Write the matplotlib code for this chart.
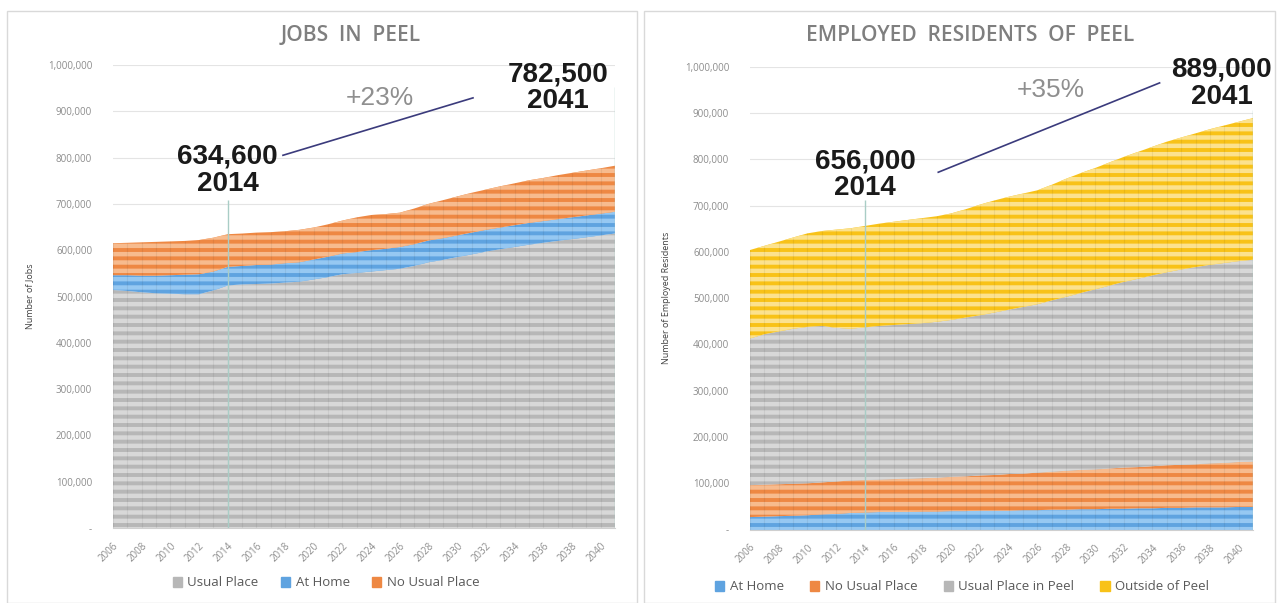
import matplotlib
matplotlib.use("Agg")
import matplotlib.pyplot as plt
from matplotlib.patches import Patch, Rectangle
from matplotlib.ticker import FuncFormatter
import numpy as np

years = np.arange(2006, 2042)

# Jobs in Peel by place of work, thousands
jobs_usual = [514, 512, 509, 507, 506, 505, 505, 513, 524, 526, 527, 528,
              530, 532, 537, 542, 548, 551, 554, 557, 560, 566, 574, 579,
              585, 591, 597, 602, 607, 612, 616, 620, 624, 628, 632, 636]
jobs_home = [32, 34, 36, 38, 40, 42, 43, 41, 40, 40, 41, 41,
             42, 42, 43, 44, 45, 45, 46, 46, 47, 47, 47, 47,
             47, 47, 47, 47, 47, 47, 47, 47, 47, 47, 47, 47]
jobs_no_usual = [69, 70, 72, 73, 73, 73, 74, 73, 70.6, 70, 70, 70,
                 69, 70, 69, 70, 71, 75, 76, 75, 74, 77, 79, 82,
                 84, 86, 87, 89, 90.5, 92, 93, 95, 96, 97, 98, 99.5]

# Employed residents of Peel by place of work, thousands
res_home = [27, 28, 29, 30, 31, 33, 34, 36, 37, 38, 38, 38,
            39, 39, 40, 40, 41, 41, 41, 42, 42, 43, 43, 44,
            44, 45, 45, 46, 46, 47, 47, 48, 48, 48, 49, 49]
res_no_usual = [69, 69, 69, 69, 69, 69, 70, 70, 70, 70, 71, 72,
                72, 73, 74, 75, 76, 77, 79, 79, 81, 82, 84, 85,
                86, 87, 89, 89, 91, 92, 93, 93, 95, 96, 97, 98]
res_usual_peel = [317, 325, 330, 335, 338, 338, 332, 328, 330, 332, 333, 334,
                  335, 337, 339, 343, 346, 351, 355, 360, 364, 370, 376, 382,
                  389, 395, 401, 407, 412, 417, 422, 426, 429, 432, 434, 436]
res_outside = [191, 191, 194, 197, 202, 205, 212, 217, 219, 221, 223, 225,
               227, 228, 230, 234, 239, 242, 244, 245, 246, 250, 255, 259,
               262, 266, 270, 274, 278, 282, 285, 289, 293, 297, 301, 306]

jobs_labels = ["Usual Place", "At Home", "No Usual Place"]
res_labels = ["At Home", "No Usual Place", "Usual Place in Peel", "Outside of Peel"]
base_year, end_year = 2014, 2041

GRAY, GRAY_LT = "#b7b7b7", "#d8d8d8"
BLUE, BLUE_LT = "#5fa3e0", "#96c8f2"
ORANGE, ORANGE_LT = "#ee8843", "#f7bb8e"
YELLOW, YELLOW_LT = "#f8c218", "#fce28e"
MARK_LINE = "#a9cdc6"
ARROW = "#3b3b7c"

W, H = 1282, 603
plt.rcParams["font.family"] = ["Open Sans", "DejaVu Sans"]
plt.rcParams["hatch.linewidth"] = 3.2


def stacked(ax, layers, colors, stripes):
    base = np.zeros(len(years))
    for vals, c, sc in zip(layers, colors, stripes):
        top = base + np.asarray(vals, dtype=float) * 1000
        ax.fill_between(years, base, top, facecolor=c, edgecolor=sc,
                        hatch="--", linewidth=0, zorder=2)
        base = top
    ax.vlines(years, 0, base, color="black", alpha=0.06, linewidth=0.8, zorder=3)
    return base


def style_axis(ax, ylabel):
    ax.set_xlim(years[0], years[-1])
    ax.set_ylim(0, 1_000_000)
    ax.set_yticks(np.arange(0, 1_000_001, 100_000))
    ax.yaxis.set_major_formatter(FuncFormatter(lambda v, p: "-" if v == 0 else f"{v:,.0f}"))
    ax.set_xticks(years[::2])
    ax.set_xticklabels([str(y) for y in years[::2]], rotation=45, ha="right",
                       rotation_mode="anchor")
    ax.tick_params(axis="y", length=0, pad=15, labelsize=7, labelcolor="#8c8c8c")
    ax.tick_params(axis="x", length=0, pad=9, labelsize=7, labelcolor="#8c8c8c")
    ax.grid(axis="y", color="#e4e4e4", linewidth=0.8, zorder=0)
    ax.set_axisbelow(True)
    for side in ["left", "right", "top"]:
        ax.spines[side].set_visible(False)
    ax.spines["bottom"].set_color("#cfcfcf")
    ax.set_ylabel(ylabel, fontsize=6.5, color="#404040", labelpad=10)


def callouts(ax, totals, start_lbl, end_lbl, pct_xy, arrow, start_top, end_top):
    i0 = list(years).index(base_year)
    v0, v1 = totals[i0], totals[-1]
    ax.vlines(base_year, 0, start_top, color=MARK_LINE, linewidth=1, zorder=4)
    ax.vlines(end_year, 0, end_top, color=MARK_LINE, linewidth=1, zorder=4)
    big = dict(fontsize=20, fontweight="bold", color="#1a1a1a", ha="center",
               va="center", linespacing=1.05, family="Liberation Sans", zorder=5)
    ax.text(*start_lbl, f"{v0:,.0f}\n{base_year}", **big)
    ax.text(*end_lbl, f"{v1:,.0f}\n{end_year}", **big)
    pct = int((v1 / v0 - 1) * 100)
    ax.text(*pct_xy, f"+{pct}%", fontsize=19, color="#8f8f8f", ha="center",
            va="center", family="Liberation Sans", zorder=5)
    (x0, y0), (x1, y1) = arrow
    ax.plot([x0, x1], [y0, y1], color=ARROW, linewidth=1.2, zorder=5)


fig = plt.figure(figsize=(W / 100, H / 100), dpi=100)

# panel frames
for x0, x1 in [(7, 637), (644, 1275)]:
    fig.add_artist(Rectangle((x0 / W, 0), (x1 - x0) / W, 1 - 11 / H,
                             transform=fig.transFigure, fill=False,
                             edgecolor="#d9d9d9", linewidth=1))

# left: jobs in Peel
ax1 = fig.add_axes([113 / W, 1 - 528 / H, (615 - 113) / W, (528 - 65) / H])
jobs_total = stacked(ax1, [jobs_usual, jobs_home, jobs_no_usual],
                     [GRAY, BLUE, ORANGE], [GRAY_LT, BLUE_LT, ORANGE_LT])
style_axis(ax1, "Number of Jobs")
callouts(ax1, jobs_total, (2014, 773_000), (2037.0, 951_000), (2024.6, 929_000),
         [(2017.85, 805_000), (2031.1, 929_000)], 708_000, 952_000)
fig.text(351 / W, 1 - 35.5 / H, "JOBS  IN  PEEL", fontsize=15, fontweight="semibold",
         color="#7f7f7f", ha="center", va="center")
fig.legend(handles=[Patch(color=c) for c in [GRAY, BLUE, ORANGE]], labels=jobs_labels,
           loc="center", bbox_to_anchor=(326 / W, 1 - 583 / H), ncol=3, frameon=False,
           fontsize=9.5, labelcolor="#595959", handlelength=0.7, handleheight=0.7,
           handletextpad=0.4, columnspacing=1.7)

# right: employed residents of Peel
ax2 = fig.add_axes([750 / W, 1 - 529.6 / H, (1253 - 750) / W, (529.6 - 66.7) / H])
res_total = stacked(ax2, [res_home, res_no_usual, res_usual_peel, res_outside],
                    [BLUE, ORANGE, GRAY, YELLOW],
                    [BLUE_LT, ORANGE_LT, GRAY_LT, YELLOW_LT])
style_axis(ax2, "Number of Employed Residents")
callouts(ax2, res_total, (2014, 767_000), (2038.8, 964_000), (2026.9, 950_000),
         [(2019.1, 772_000), (2034.5, 965_000)], 712_000, 906_000)
fig.text(970 / W, 1 - 35.5 / H, "EMPLOYED  RESIDENTS  OF  PEEL", fontsize=15,
         fontweight="semibold", color="#7f7f7f", ha="center", va="center")
fig.legend(handles=[Patch(color=c) for c in [BLUE, ORANGE, GRAY, YELLOW]], labels=res_labels,
           loc="center", bbox_to_anchor=(962 / W, 1 - 587 / H), ncol=4, frameon=False,
           fontsize=9.5, labelcolor="#595959", handlelength=0.7, handleheight=0.7,
           handletextpad=0.4, columnspacing=2.0)

fig.savefig("out.png", dpi=100)
